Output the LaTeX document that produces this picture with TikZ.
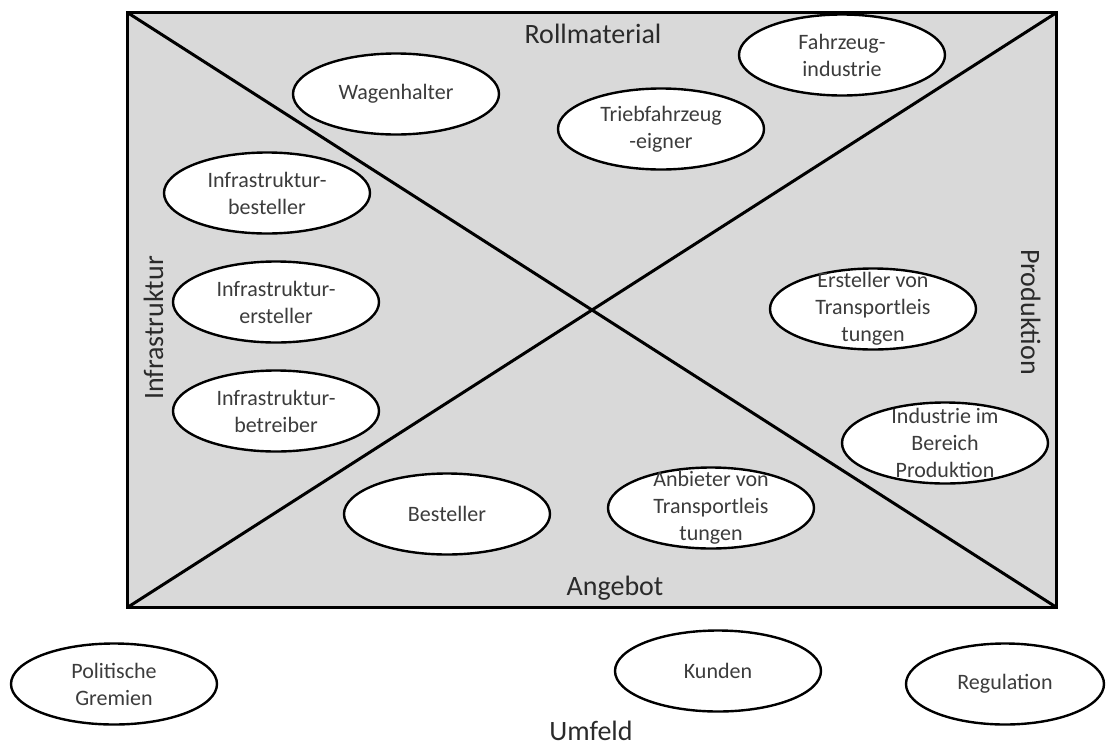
\documentclass[tikz,border=0pt]{standalone}
\usepackage{fontspec}
\setmainfont{Carlito}
\usetikzlibrary{shapes.geometric}
\definecolor{panelgray}{HTML}{D9D9D9}
\definecolor{inktext}{HTML}{3C3C3C}
\definecolor{titletext}{HTML}{2A2A2A}
\begin{document}
\begin{tikzpicture}[x=1pt,y=-1pt,
  oval/.style={ellipse, draw=black, line width=2.4pt, fill=white,
    minimum width=206pt, minimum height=81pt, inner sep=0pt},
  lbl/.style={text=inktext, font=\fontsize{22}{27}\selectfont, align=center, inner sep=0pt},
  title/.style={text=titletext, font=\fontsize{28}{34}\selectfont, inner sep=0pt},
  divider/.style={line width=3pt, line cap=round}]
\useasboundingbox (0,0) rectangle (1106,747);

% grey field with its two diagonals
\node[fill=panelgray, minimum width=928pt, minimum height=594pt, inner sep=0pt] (board) at (592,310) {};
\draw[divider] (board.north west) -- (board.south east);
\draw[divider] (board.south west) -- (board.north east);
\draw[line width=3pt] (board.north west) rectangle (board.south east);

% quadrant titles
\node[title, anchor=base] (roll) at (593,43) {Rollmaterial};
\node[title, anchor=base] (angebot) at (615,595) {Angebot};
\node[title, anchor=base, rotate=90] (infra) at (163,328) {Infrastruktur};
\node[title, anchor=base, rotate=-90] (prod) at (1021,312) {Produktion};

% actors inside the field
\node[oval, label={[lbl]center:Wagenhalter}] (wagen) at (396,94) {};
\node[oval, label={[lbl]center:{Triebfahrzeug\\-eigner}}] (trieb) at (661,129) {};
\node[oval, label={[lbl]center:{Fahrzeug-\\industrie}}] (fahrz) at (842,55) {};
\node[oval, label={[lbl]center:{Infrastruktur-\\besteller}}] (ibest) at (267,193) {};
\node[oval, label={[lbl]center:{Infrastruktur-\\ersteller}}] (ierst) at (276,302) {};
\node[oval, label={[lbl]center:{Infrastruktur-\\betreiber}}] (ibetr) at (276,411) {};
\node[oval, label={[lbl]center:{Ersteller von\\Transportleis\\tungen}}] (erst) at (873,309) {};
\node[oval, label={[lbl]center:{Industrie im\\Bereich\\Produktion}}] (indu) at (945,443) {};
\node[oval, label={[lbl]center:Besteller}] (best) at (447,514) {};
\node[oval, label={[lbl]center:{Anbieter von\\Transportleis\\tungen}}] (anbi) at (711,508) {};

% environment
\node[oval, label={[lbl]center:{Politische\\Gremien}}] (polit) at (114,684) {};
\node[oval, label={[lbl]center:Kunden}] (kunden) at (718,671) {};
\node[oval, minimum width=198pt, label={[lbl]center:Regulation}] (regul) at (1005,684) {};
\node[title, anchor=base] (umfeld) at (591,740) {Umfeld};
\end{tikzpicture}
\end{document}
